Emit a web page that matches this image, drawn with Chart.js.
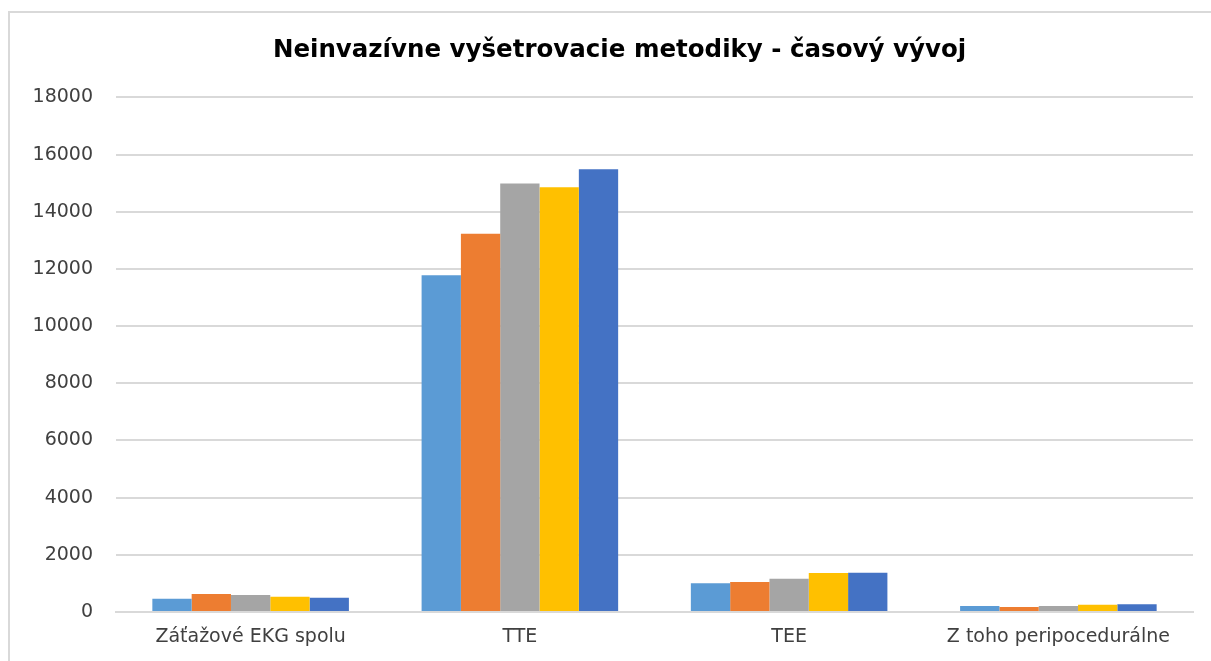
<!DOCTYPE html>
<html>
<head>
<meta charset="utf-8">
<script src="https://cdn.jsdelivr.net/npm/chart.js@4"></script>
<style>
  html, body { margin: 0; padding: 0; background: #fff; overflow: hidden; }
  canvas { display: block; }
</style>
</head>
<body>
<canvas id="c" width="1211" height="661"></canvas>
<script>
const categories = ["Záťažové EKG spolu", "TTE", "TEE", "Z toho peripocedurálne"];
const series1 = [465, 11780, 1005, 210];
const series2 = [630, 13230, 1050, 175];
const series3 = [595, 14990, 1165, 210];
const series4 = [535, 14860, 1365, 255];
const series5 = [500, 15490, 1375, 270];
const yTicks = [0, 2000, 4000, 6000, 8000, 10000, 12000, 14000, 16000, 18000];
const colors = ["#5B9BD5", "#ED7D31", "#A5A5A5", "#FFC000", "#4472C4"];
const titleText = "Neinvazívne vyšetrovacie metodiky - časový vývoj";

const framePlugin = {
  id: "frame",
  afterLayout(chart) {
    const t = chart.titleBlock;
    if (t) { t.left = 46; t.width = t.right - t.left; }
  },
  beforeDraw(chart) {
    const ctx = chart.ctx;
    ctx.save();
    ctx.fillStyle = "#fff";
    ctx.fillRect(0, 0, chart.width, chart.height);
    ctx.strokeStyle = "#d9d9d9";
    ctx.lineWidth = 2;
    ctx.beginPath();
    ctx.moveTo(9, chart.height);
    ctx.lineTo(9, 12);
    ctx.lineTo(chart.width, 12);
    ctx.stroke();
    ctx.restore();
  }
};

const allSeries = [series1, series2, series3, series4, series5];
new Chart(document.getElementById("c"), {
  type: "bar",
  data: {
    labels: categories,
    datasets: allSeries.map((s, i) => ({
      label: "Séria " + (i + 1),
      data: s,
      backgroundColor: colors[i],
      borderWidth: 0,
      categoryPercentage: 0.73,
      barPercentage: 1.0
    }))
  },
  plugins: [framePlugin],
  options: {
    responsive: false,
    animation: false,
    layout: { padding: { left: 10, right: 18, top: 0, bottom: 0 } },
    plugins: {
      legend: { display: false },
      tooltip: { enabled: false },
      title: {
        display: true,
        text: titleText,
        color: "#000",
        font: { family: "DejaVu Sans", size: 24.5, weight: "bold" },
        padding: { top: 36, bottom: 32 }
      }
    },
    scales: {
      x: {
        grid: { display: false, drawTicks: false },
        border: { display: true, color: "#d9d9d9", width: 2 },
        ticks: { color: "#404040", font: { family: "DejaVu Sans", size: 19 }, padding: 14, maxRotation: 0 },
        afterFit: (s) => { s.height = 49; }
      },
      y: {
        min: 0, max: 18000,
        afterBuildTicks: (s) => { s.ticks = yTicks.map(v => ({ value: v })); },
        grid: { color: "#d9d9d9", lineWidth: 2, drawTicks: false },
        border: { display: false },
        ticks: { color: "#404040", font: { family: "DejaVu Sans", size: 19 }, padding: 23,
                 callback: (v) => String(v) },
        afterFit: (s) => { s.width = 106; }
      }
    }
  }
});
</script>
</body>
</html>
